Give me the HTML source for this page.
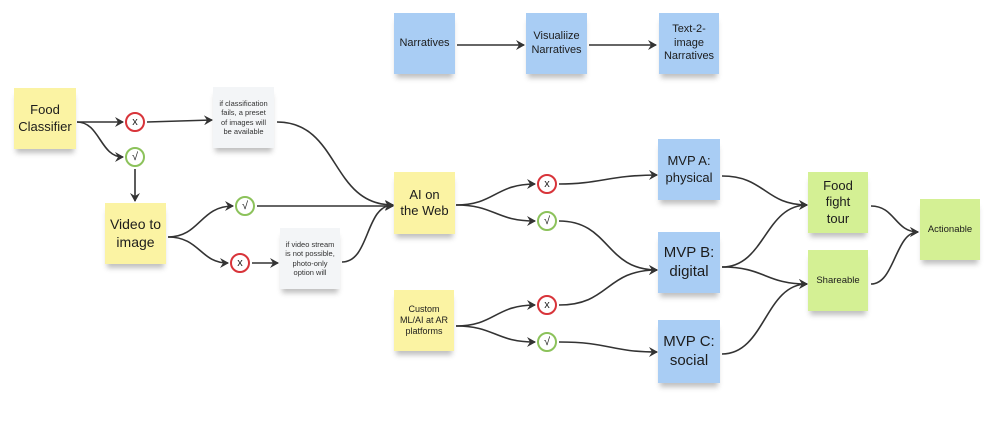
<!DOCTYPE html>
<html><head><meta charset="utf-8"><style>
body{margin:0;background:#fff;width:1000px;height:441px;overflow:hidden;font-family:"Liberation Sans",sans-serif;}
svg{position:absolute;left:0;top:0}
.n{position:absolute;display:flex;align-items:center;justify-content:center;text-align:center;color:#1c1c1c;box-shadow:0 6px 5px -2px rgba(0,0,0,0.25);line-height:1.25;box-sizing:border-box}
.y{background:#fbf3a3}.b{background:#a9cdf4}.g{background:#d4f094}.w{background:#f3f5f7;color:#333}
.c{position:absolute;width:20px;height:20px;border-radius:50%;background:#fff;display:flex;align-items:center;justify-content:center;font-size:11px;color:#222;box-sizing:border-box}
.r{border:2px solid #d8343a}.k{border:2px solid #8cc25b}
</style></head><body>
<svg width="1000" height="441">
<defs><marker id="a" markerWidth="10" markerHeight="10" refX="8" refY="5" orient="auto" markerUnits="userSpaceOnUse"><path d="M0,0 L9,5 L0,10 L3,5 Z" fill="#333"/></marker></defs>
<g fill="none" stroke="#333" stroke-width="1.6" marker-end="url(#a)">
<path d="M457,45 L524,45"/><path d="M589,45 L656,45"/>
<path d="M77,122 L123,122"/>
<path d="M77,122 C100,122 100,157 123,157"/>
<path d="M147,122 L212,120"/>
<path d="M135,169 L135,201"/>
<path d="M277,122 C340,122 330,205 393,205"/>
<path d="M168,237 C200,237 200,206 233,206"/>
<path d="M168,237 C200,237 200,263 228,263"/>
<path d="M257,206 L393,206"/>
<path d="M252,263 L278,263"/>
<path d="M342,262 C370,262 365,205 393,205"/>
<path d="M456,205 C495,205 495,184 535,184"/>
<path d="M456,205 C495,205 495,221 535,221"/>
<path d="M559,184 C600,184 610,175 657,175"/>
<path d="M559,221 C610,221 605,270 657,270"/>
<path d="M456,326 C495,326 495,305 535,305"/>
<path d="M456,326 C495,326 495,342 535,342"/>
<path d="M559,305 C610,305 605,270 657,270"/>
<path d="M559,342 C610,342 610,352 657,352"/>
<path d="M722,176 C765,176 765,205 807,205"/>
<path d="M722,267 C765,267 765,205 807,205"/>
<path d="M722,267 C765,267 765,284 807,284"/>
<path d="M722,354 C765,354 765,284 807,284"/>
<path d="M871,206 C895,206 895,232 918,232"/>
<path d="M871,284 C895,284 895,232 918,232"/>
</g></svg>
<div class="n b" style="left:394px;top:13px;width:61px;height:61px;font-size:11px">Narratives</div>
<div class="n b" style="left:526px;top:13px;width:61px;height:61px;font-size:11px">Visualiize Narratives</div>
<div class="n b" style="left:659px;top:13px;width:60px;height:61px;font-size:11px">Text-2-<br>image Narratives</div>
<div class="n y" style="left:14px;top:88px;width:62px;height:61px;font-size:13px">Food Classifier</div>
<div class="n w" style="left:213px;top:87px;width:61px;height:61px;font-size:7.5px;padding:0 6px">if classification fails, a preset of images will be available</div>
<div class="c r" style="left:125px;top:112px">x</div>
<div class="c k" style="left:125px;top:147px">√</div>
<div class="n y" style="left:105px;top:203px;width:61px;height:61px;font-size:14px">Video to image</div>
<div class="c k" style="left:235px;top:196px">√</div>
<div class="c r" style="left:230px;top:253px">x</div>
<div class="n w" style="left:280px;top:228px;width:60px;height:61px;font-size:7.5px;padding:0 5px">if video stream is not possible, photo-only option will</div>
<div class="n y" style="left:394px;top:172px;width:61px;height:62px;font-size:13px">AI on<br>the Web</div>
<div class="n y" style="left:394px;top:290px;width:60px;height:61px;font-size:9px;padding:0 4px">Custom<br>ML/AI at AR platforms</div>
<div class="c r" style="left:537px;top:174px">x</div>
<div class="c k" style="left:537px;top:211px">√</div>
<div class="c r" style="left:537px;top:295px">x</div>
<div class="c k" style="left:537px;top:332px">√</div>
<div class="n b" style="left:658px;top:139px;width:62px;height:61px;font-size:13px">MVP A:<br>physical</div>
<div class="n b" style="left:658px;top:232px;width:62px;height:61px;font-size:15px">MVP B:<br>digital</div>
<div class="n b" style="left:658px;top:320px;width:62px;height:63px;font-size:15px">MVP C:<br>social</div>
<div class="n g" style="left:808px;top:172px;width:60px;height:61px;font-size:13px">Food<br>fight<br>tour</div>
<div class="n g" style="left:808px;top:250px;width:60px;height:61px;font-size:9.5px">Shareable</div>
<div class="n g" style="left:920px;top:199px;width:60px;height:61px;font-size:9.5px">Actionable</div>
</body></html>
